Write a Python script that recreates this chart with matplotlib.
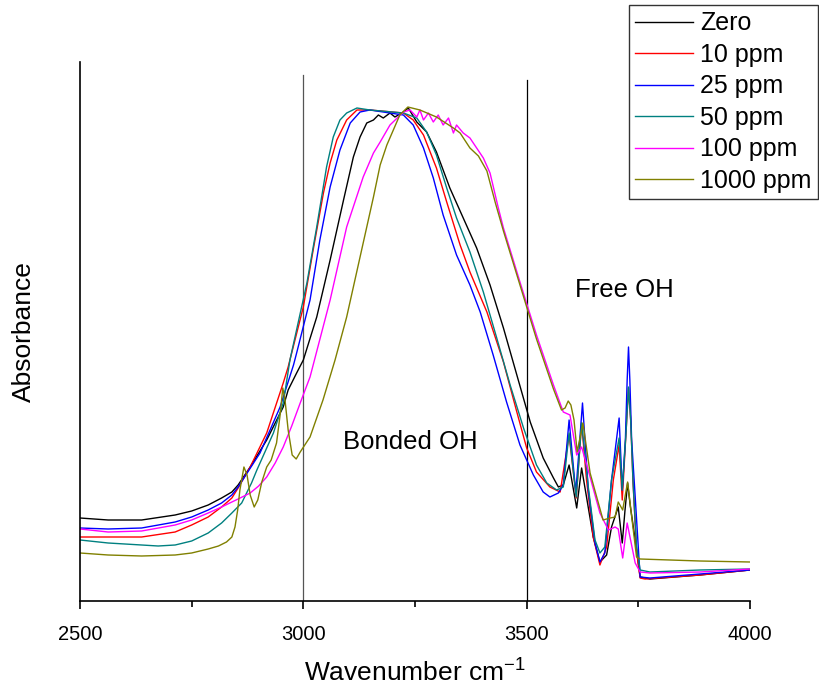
import matplotlib
matplotlib.use("Agg")
import matplotlib.pyplot as plt
from matplotlib.ticker import MultipleLocator, NullLocator

plt.rcParams['font.family'] = ['Liberation Sans', 'Arial', 'DejaVu Sans']
plt.rcParams['mathtext.fontset'] = 'custom'
plt.rcParams['mathtext.rm'] = 'Liberation Sans'

labels = ["Zero", "10 ppm", "25 ppm", "50 ppm", "100 ppm", "1000 ppm"]
colors = ["#000000", "#FF0000", "#0000FF", "#008080", "#FF00FF", "#808000"]

# ---- Zero ----
zero_w = [2500, 2563, 2638, 2713, 2750, 2787, 2817, 2840, 2854, 2881, 2918, 2955, 2966, 2985, 3000, 3030,
          3060, 3090, 3112, 3127, 3142, 3157, 3168, 3179, 3194, 3205, 3224, 3235, 3254, 3276, 3298, 3328,
          3358, 3388, 3418, 3448, 3478, 3508, 3537, 3560, 3571, 3582, 3595, 3612, 3623, 3634, 3649, 3664,
          3679, 3690, 3705, 3714, 3720, 3726, 3732, 3743, 3754, 3776, 3888, 4000]
zero_a = [0.83, 0.81, 0.81, 0.86, 0.90, 0.96, 1.03, 1.09, 1.16, 1.34, 1.61, 1.94, 2.11, 2.28, 2.41, 2.84,
          3.41, 4.01, 4.44, 4.64, 4.78, 4.81, 4.86, 4.83, 4.88, 4.84, 4.89, 4.93, 4.79, 4.69, 4.49, 4.13,
          3.83, 3.53, 3.16, 2.73, 2.26, 1.79, 1.43, 1.23, 1.14, 1.16, 1.36, 0.93, 1.33, 1.04, 0.64, 0.39,
          0.46, 0.74, 0.94, 0.58, 0.90, 1.18, 0.95, 0.61, 0.24, 0.22, 0.26, 0.31]

# ---- 10 ppm ----
p10_w = [2500, 2563, 2638, 2713, 2750, 2787, 2817, 2840, 2854, 2881, 2918, 2955, 2966, 3000, 3022, 3045,
         3060, 3075, 3097, 3120, 3149, 3224, 3246, 3269, 3298, 3321, 3351, 3373, 3411, 3448, 3478, 3500,
         3522, 3552, 3575, 3595, 3611, 3623, 3634, 3649, 3664, 3679, 3694, 3707, 3714, 3722, 3728, 3733,
         3738, 3746, 3754, 3765, 3888, 4000]
p10_a = [0.64, 0.64, 0.64, 0.69, 0.76, 0.84, 0.94, 1.03, 1.13, 1.34, 1.68, 2.18, 2.34, 2.94, 3.51, 4.08,
         4.38, 4.61, 4.81, 4.91, 4.91, 4.88, 4.81, 4.66, 4.33, 3.99, 3.56, 3.29, 2.89, 2.39, 1.89, 1.53,
         1.29, 1.14, 1.09, 1.66, 1.03, 1.78, 1.21, 0.64, 0.36, 0.54, 1.21, 1.56, 1.01, 1.65, 2.13, 1.80,
         1.20, 0.50, 0.23, 0.22, 0.26, 0.31]

# ---- 25 ppm ----
p25_w = [2500, 2563, 2638, 2713, 2750, 2787, 2817, 2840, 2854, 2903, 2948, 2978, 2985, 3015, 3037, 3060,
         3082, 3105, 3127, 3149, 3224, 3246, 3269, 3291, 3313, 3343, 3373, 3396, 3425, 3455, 3485, 3515,
         3537, 3552, 3571, 3582, 3595, 3610, 3625, 3638, 3653, 3664, 3675, 3690, 3707, 3714, 3721, 3725,
         3728, 3731, 3735, 3743, 3754, 3776, 3888, 4000]
p25_a = [0.73, 0.72, 0.73, 0.79, 0.84, 0.91, 0.98, 1.06, 1.14, 1.48, 1.94, 2.36, 2.48, 3.01, 3.61, 4.14,
         4.51, 4.78, 4.89, 4.91, 4.86, 4.76, 4.53, 4.23, 3.86, 3.46, 3.16, 2.89, 2.46, 1.99, 1.56, 1.26,
         1.09, 1.04, 1.08, 1.16, 1.81, 1.08, 1.98, 1.11, 0.58, 0.39, 0.48, 1.21, 1.83, 1.11, 1.61, 2.21,
         2.54, 2.21, 1.61, 1.04, 0.24, 0.23, 0.27, 0.31]

# ---- 50 ppm ----
p50_w = [2500, 2563, 2638, 2675, 2713, 2750, 2787, 2817, 2840, 2862, 2884, 2896, 2933, 2955, 2970, 3008,
         3030, 3052, 3067, 3082, 3097, 3120, 3149, 3224, 3254, 3276, 3298, 3321, 3343, 3373, 3403, 3433,
         3463, 3493, 3522, 3545, 3567, 3582, 3595, 3611, 3623, 3638, 3653, 3664, 3675, 3690, 3707, 3714,
         3722, 3728, 3733, 3738, 3746, 3754, 3776, 3888, 4000]
p50_a = [0.61, 0.58, 0.56, 0.55, 0.56, 0.60, 0.68, 0.78, 0.88, 0.98, 1.18, 1.31, 1.68, 1.98, 2.41, 3.18,
         3.74, 4.34, 4.64, 4.81, 4.88, 4.93, 4.91, 4.88, 4.83, 4.69, 4.46, 4.13, 3.83, 3.49, 3.09, 2.63,
         2.16, 1.73, 1.36, 1.18, 1.11, 1.14, 1.68, 1.04, 1.78, 1.14, 0.61, 0.48, 0.54, 1.21, 1.63, 1.11,
         1.65, 2.14, 1.80, 1.20, 0.55, 0.31, 0.29, 0.31, 0.32]

# ---- 100 ppm ----
p100_w = [2500, 2563, 2638, 2713, 2750, 2787, 2817, 2840, 2854, 2881, 2900, 2918, 2937, 2955, 2974, 2993,
          3015, 3060, 3097, 3134, 3157, 3172, 3194, 3224, 3239, 3254, 3261, 3269, 3280, 3291, 3302, 3313,
          3325, 3336, 3343, 3358, 3373, 3388, 3403, 3418, 3436, 3448, 3485, 3522, 3560, 3582, 3597, 3612,
          3623, 3642, 3664, 3683, 3698, 3705, 3715, 3725, 3743, 3754, 3776, 3888, 4000]
p100_a = [0.72, 0.69, 0.70, 0.76, 0.81, 0.88, 0.94, 0.99, 1.02, 1.08, 1.15, 1.24, 1.38, 1.54, 1.75, 1.98,
          2.24, 3.01, 3.74, 4.24, 4.48, 4.59, 4.76, 4.89, 4.91, 4.84, 4.91, 4.81, 4.88, 4.79, 4.86, 4.76,
          4.83, 4.68, 4.76, 4.68, 4.63, 4.53, 4.43, 4.28, 3.94, 3.73, 3.19, 2.66, 2.16, 1.89, 1.86, 1.46,
          1.54, 1.24, 0.88, 0.71, 0.74, 0.72, 0.43, 0.78, 0.38, 0.29, 0.28, 0.29, 0.32]

# ---- 1000 ppm ----
p1000_w = [2500, 2563, 2638, 2713, 2750, 2787, 2810, 2828, 2840, 2847, 2853, 2858, 2867, 2874, 2881, 2890,
           2898, 2907, 2918, 2928, 2940, 2948, 2954, 2959, 2966, 2975, 2984, 2993, 3015, 3044, 3071, 3097,
           3134, 3157, 3172, 3187, 3216, 3234, 3261, 3298, 3336, 3351, 3373, 3392, 3411, 3430, 3448, 3485,
           3522, 3560, 3578, 3586, 3593, 3599, 3606, 3613, 3626, 3642, 3671, 3687, 3698, 3705, 3715, 3726,
           3736, 3746, 3754, 3888, 4000]
p1000_a = [0.48, 0.46, 0.45, 0.46, 0.48, 0.52, 0.55, 0.59, 0.64, 0.74, 0.91, 1.11, 1.34, 1.26, 1.06, 0.94,
           1.01, 1.19, 1.34, 1.41, 1.58, 1.86, 2.13, 2.01, 1.71, 1.46, 1.42, 1.49, 1.64, 2.01, 2.41, 2.84,
           3.58, 4.04, 4.36, 4.56, 4.86, 4.94, 4.91, 4.84, 4.73, 4.68, 4.53, 4.45, 4.30, 3.98, 3.70, 3.16,
           2.62, 2.12, 1.91, 1.93, 2.00, 1.96, 1.81, 1.49, 1.78, 1.28, 0.81, 0.83, 0.84, 0.99, 0.91, 1.19,
           0.81, 0.44, 0.42, 0.40, 0.39]

series_w = [zero_w, p10_w, p25_w, p50_w, p100_w, p1000_w]
series_a = [zero_a, p10_a, p25_a, p50_a, p100_a, p1000_a]

fig = plt.figure(figsize=(8.2, 6.89), dpi=100)
ax = fig.add_axes([80/820, 1-601/689, 670/820, 539/689])

# region divider lines
ax.plot([3000, 3000], [0, 5.26], color="#555555", lw=0.9, zorder=1)
ax.plot([3500, 3500], [0, 5.21], color="#000000", lw=0.9, zorder=1)

for w, a, c, lab in zip(series_w, series_a, colors, labels):
    ax.plot(w, a, color=c, lw=1.0, label=lab, zorder=2)

ax.set_xlim(2500, 4000)
ax.set_ylim(0, 5.39)
ax.spines['top'].set_visible(False)
ax.spines['right'].set_visible(False)
ax.spines['left'].set_linewidth(1.2)
ax.spines['bottom'].set_linewidth(1.2)
ax.yaxis.set_major_locator(NullLocator())
ax.xaxis.set_major_locator(MultipleLocator(500))
ax.xaxis.set_minor_locator(MultipleLocator(250))
ax.tick_params(axis='x', which='major', direction='out', length=6, width=1.2, labelsize=14.5, pad=11)
ax.tick_params(axis='x', which='minor', direction='out', length=4, width=1.2)

ax.set_xlabel(r"Wavenumber cm$^{\mathregular{-1}}$", fontsize=19, labelpad=10)
ax.set_ylabel("Absorbance", fontsize=19, labelpad=32)

ax.text(3239, 1.59, "Bonded OH", fontsize=18.5, ha='center', va='center')
ax.text(3718, 3.11, "Free OH", fontsize=18.5, ha='center', va='center')

leg = fig.legend(loc='upper right', bbox_to_anchor=(818/820, 1-5/689), fontsize=18,
                 frameon=True, fancybox=False, shadow=False, borderaxespad=0,
                 handlelength=2.3, handletextpad=0.3, labelspacing=0.3, borderpad=0.25)
leg.get_frame().set_edgecolor('black')
leg.get_frame().set_linewidth(1.0)

fig.savefig("out.png", dpi=100)
